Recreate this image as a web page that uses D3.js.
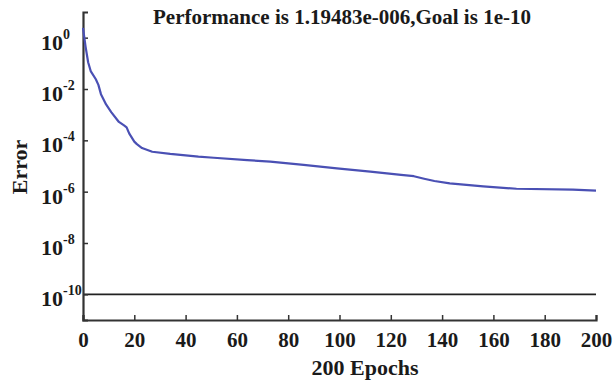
<!DOCTYPE html>
<html>
<head>
<meta charset="utf-8">
<script src="https://cdn.jsdelivr.net/npm/d3@7"></script>
<style>
html,body{margin:0;padding:0;background:#fff;}
svg{display:block;}
text{font-family:"Liberation Serif","Times New Roman",serif;font-weight:bold;fill:#1a1a1a;}
</style>
</head>
<body>
<svg id="chart" width="613" height="382"></svg>
<script>
// ---- data ----
const epochs = [0,1,2,3,5,6,7,9,11,14,16,17,18,20,21,23,27,34,38,45,51,64,73,86,99,112,124,129,133,137,143,156,169,191,200];
const errors = [2.4,0.45,0.11,0.05,0.024,0.0145,0.0063,0.0025,0.00126,5.2e-4,3.8e-4,3.2e-4,1.86e-4,8.9e-5,7.1e-5,5.0e-5,3.6e-5,2.95e-5,2.7e-5,2.3e-5,2.1e-5,1.7e-5,1.48e-5,1.1e-5,8.1e-6,6.0e-6,4.5e-6,4.0e-6,3.2e-6,2.6e-6,2.1e-6,1.6e-6,1.3e-6,1.2e-6,1.1e-6];
const goal = 1e-10;
const xTicks = [0,20,40,60,80,100,120,140,160,180,200];
const yTickExps = [0,-2,-4,-6,-8,-10];
const titleText = "Performance is 1.19483e-006,Goal is 1e-10";
const xLabel = "200 Epochs";
const yLabel = "Error";

// ---- chart ----
const svg = d3.select("#chart");
const L = 83, R = 596, T = 12, B = 320;
const x = d3.scaleLinear().domain([0,200]).range([L,R]);
const y = d3.scaleLog().domain([1e-11,1e1]).range([B,T]);

// goal line
svg.append("line")
  .attr("x1", x(0)).attr("x2", x(200))
  .attr("y1", y(goal)).attr("y2", y(goal))
  .attr("stroke","#222").attr("stroke-width",1.8);

// axes
const xAxis = d3.axisBottom(x).tickValues(xTicks).tickSize(-5).tickPadding(12).tickFormat(d3.format("d"));
const gx = svg.append("g").attr("transform",`translate(0,${B})`).call(xAxis);
gx.select(".domain").attr("stroke","#333").attr("stroke-width",2.2);
gx.selectAll(".tick line").attr("stroke","#333").attr("stroke-width",1.5);
gx.selectAll(".tick text").attr("font-size",21).attr("font-family","Liberation Serif, serif").attr("font-weight","bold").attr("fill","#1a1a1a");

const yAxis = d3.axisLeft(y).tickValues(yTickExps.map(e=>Math.pow(10,e))).tickSize(-5).tickFormat("");
const gy = svg.append("g").attr("transform",`translate(${L},0)`).call(yAxis);
gy.select(".domain").attr("stroke","#333").attr("stroke-width",2.2);
gy.selectAll(".tick line").attr("stroke","#333").attr("stroke-width",1.5);

// y tick labels with superscripts
yTickExps.forEach(e=>{
  svg.append("text")
    .attr("x", 63).attr("y", y(Math.pow(10,e)) + 12)
    .attr("text-anchor","end").attr("font-size",22)
    .text("10");
  svg.append("text")
    .attr("x", 63).attr("y", y(Math.pow(10,e)) + 1)
    .attr("text-anchor","start").attr("font-size",14)
    .text(e === 0 ? "0" : "-" + Math.abs(e));
});

// performance line
const line = d3.line().x((d,i)=>x(epochs[i])).y(d=>y(d));
svg.append("path").datum(errors)
  .attr("d", line)
  .attr("fill","none")
  .attr("stroke","#4a50b4")
  .attr("stroke-width",2.2)
  .attr("stroke-linejoin","round");

// title & labels
svg.append("text").attr("x",342).attr("y",24).attr("text-anchor","middle")
  .attr("font-size",21).text(titleText);
svg.append("text").attr("x",365).attr("y",375).attr("text-anchor","middle")
  .attr("font-size",22).text(xLabel);
svg.append("text").attr("transform","translate(27,167) rotate(-90)")
  .attr("text-anchor","middle").attr("font-size",22).text(yLabel);
</script>
</body>
</html>
